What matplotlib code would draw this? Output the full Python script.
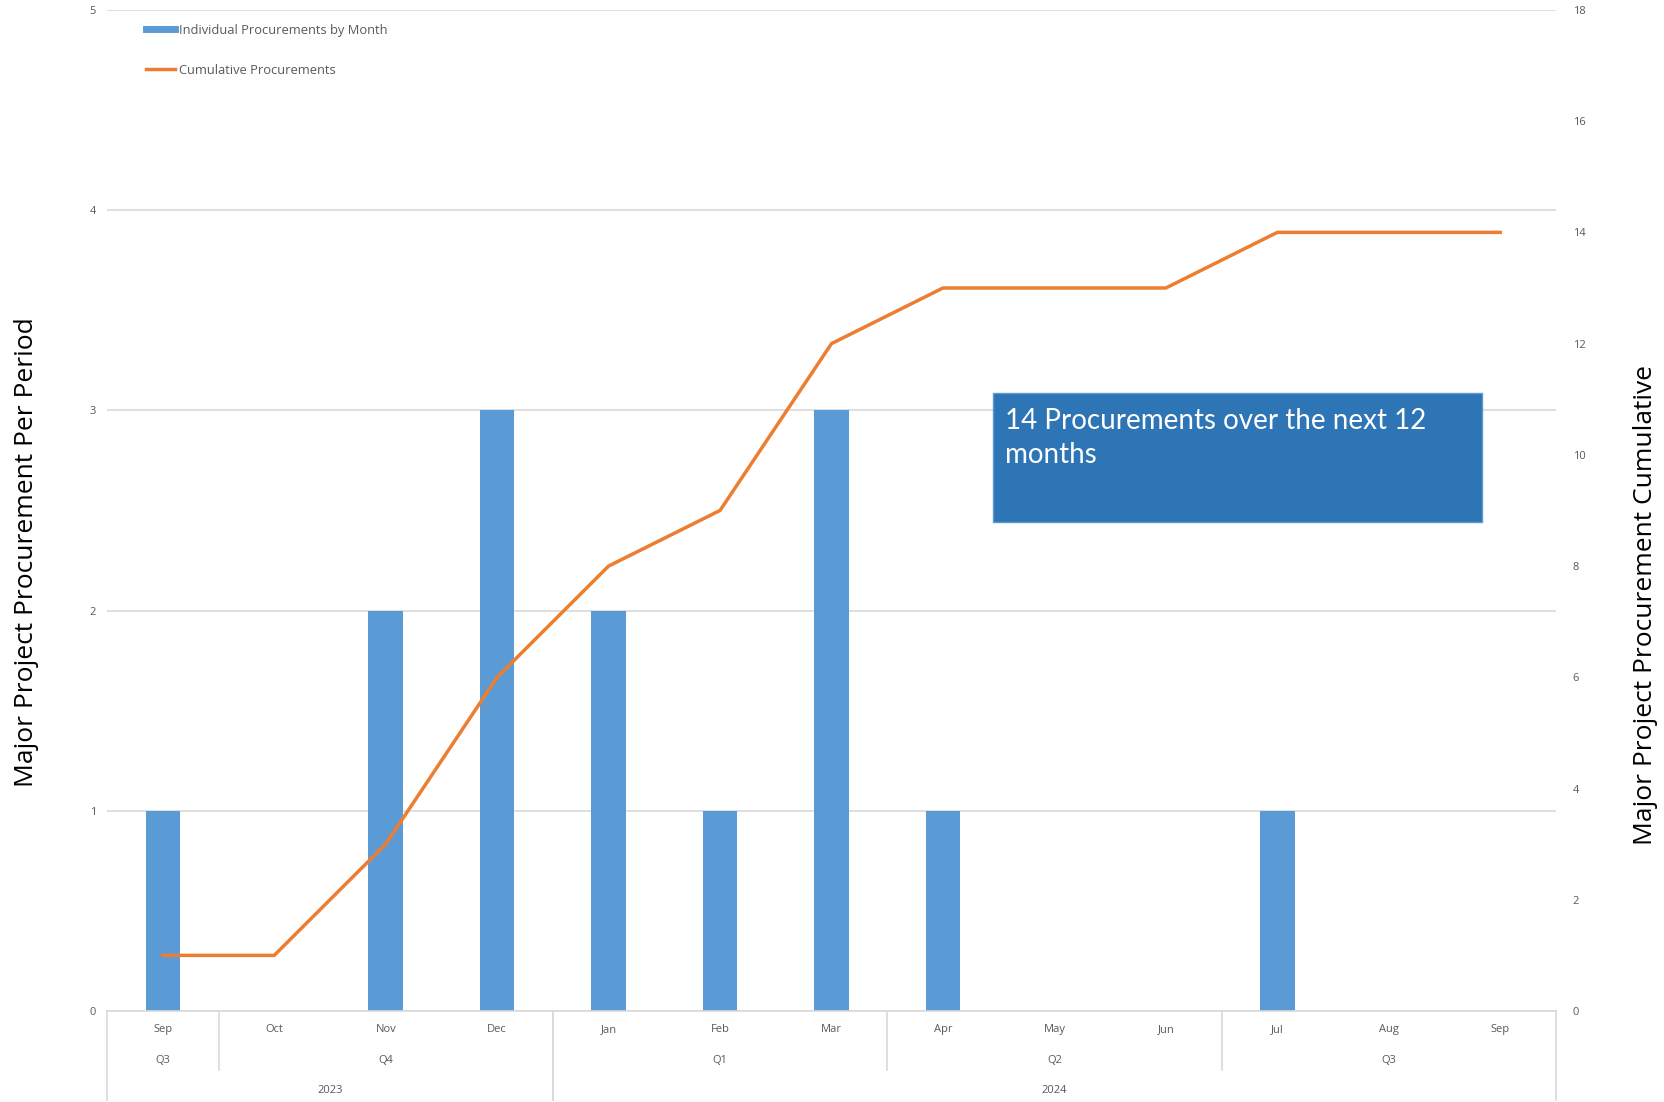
import numpy as np
import matplotlib.pyplot as plt
from matplotlib.lines import Line2D
from matplotlib.patches import Rectangle
from matplotlib.transforms import blended_transform_factory

months = ['Sep', 'Oct', 'Nov', 'Dec', 'Jan', 'Feb', 'Mar',
          'Apr', 'May', 'Jun', 'Jul', 'Aug', 'Sep']
monthly = [1, 0, 2, 3, 2, 1, 3, 1, 0, 0, 1, 0, 0]
cumulative = [1, 1, 3, 6, 8, 9, 12, 13, 13, 13, 14, 14, 14]
quarters = [('Q3', 0, 0), ('Q4', 1, 3), ('Q1', 4, 6), ('Q2', 7, 9), ('Q3', 10, 12)]
years = [('2023', 0, 3), ('2024', 4, 12)]

bar_color = '#5B9BD5'
line_color = '#ED7D31'
grey_txt = '#595959'
grid_col = '#D9D9D9'

plt.rcParams['font.family'] = ['Open Sans', 'DejaVu Sans']

fig = plt.figure(figsize=(16.65, 11.02), dpi=100)
ax = fig.add_axes([0.0643, 0.0826, 0.8702, 0.9084])
ax2 = ax.twinx()

x = np.arange(len(months))
ax.bar(x, monthly, width=0.31, color=bar_color, zorder=2)
ax2.plot(x, cumulative, color=line_color, lw=2.5, zorder=3)

ax.set_xlim(-0.5, len(months) - 0.5)
ax.set_ylim(0, 5)
ax2.set_ylim(0, 18)
ax.set_yticks(range(0, 6))
ax2.set_yticks(range(0, 19, 2))
ax.yaxis.grid(True, color=grid_col, lw=1.2, zorder=0)
ax.set_axisbelow(True)

for a in (ax, ax2):
    for s in a.spines.values():
        s.set_visible(False)
    a.tick_params(length=0, labelsize=8, colors=grey_txt)
ax.tick_params(axis='y', pad=8)
ax2.tick_params(axis='y', pad=12)
ax.spines['bottom'].set_visible(True)
ax.spines['bottom'].set_color(grid_col)
ax.spines['bottom'].set_linewidth(1.2)
ax.set_xticks([])

# axis titles (sit a little below the axes centre, as in the original)
fig.text(27 / 1665, 1 - 552 / 1102, 'Major Project Procurement Per Period',
         rotation=90, ha='center', va='center', fontsize=19, color='black')
fig.text(1646 / 1665, 1 - 605 / 1102, 'Major Project Procurement Cumulative',
         rotation=90, ha='center', va='center', fontsize=19, color='black')

# multi-level category axis
tr = blended_transform_factory(ax.transData, ax.transAxes)
for i, m in enumerate(months):
    ax.text(i, -0.019, m, transform=tr, ha='center', va='center', fontsize=8, color=grey_txt)
for q, a, b in quarters:
    ax.text((a + b) / 2, -0.049, q, transform=tr, ha='center', va='center', fontsize=8, color=grey_txt)
for yr, a, b in years:
    ax.text((a + b) / 2, -0.079, yr, transform=tr, ha='center', va='center', fontsize=8, color=grey_txt)

year_edges = [years[0][1] - 0.5] + [b + 0.5 for _, _, b in years]
quarter_edges = [b + 0.5 for _, _, b in quarters[:-1]]
for e in quarter_edges:
    bottom = -0.089 if e in year_edges else -0.059
    ax.add_line(Line2D([e, e], [0, bottom], transform=tr, color=grid_col, lw=1.2, clip_on=False))
for e in year_edges:
    ax.add_line(Line2D([e, e], [0, -0.089], transform=tr, color=grid_col, lw=1.2, clip_on=False))

handles = [Line2D([], [], color=bar_color, lw=5),
           Line2D([], [], color=line_color, lw=2.5)]
leg = ax.legend(handles, ['Individual Procurements by Month', 'Cumulative Procurements'],
                loc='upper left', bbox_to_anchor=(0.019, 0.998), frameon=False,
                fontsize=9.3, labelspacing=2.1, handlelength=2.2, handletextpad=0.3)
for t in leg.get_texts():
    t.set_color(grey_txt)

# annotation box
fig.patches.append(Rectangle((993 / 1665, 1 - 522 / 1102), 489 / 1665, 129 / 1102,
                             transform=fig.transFigure, facecolor='#2E75B6',
                             edgecolor='#5B9BD5', lw=1, zorder=5))
fig.text(1005 / 1665, 1 - 408 / 1102, '14 Procurements over the next 12\nmonths',
         ha='left', va='top', fontsize=20, color='white', family=['Lato', 'DejaVu Sans'],
         linespacing=1.4, zorder=6)

fig.savefig('out.png', dpi=100)
